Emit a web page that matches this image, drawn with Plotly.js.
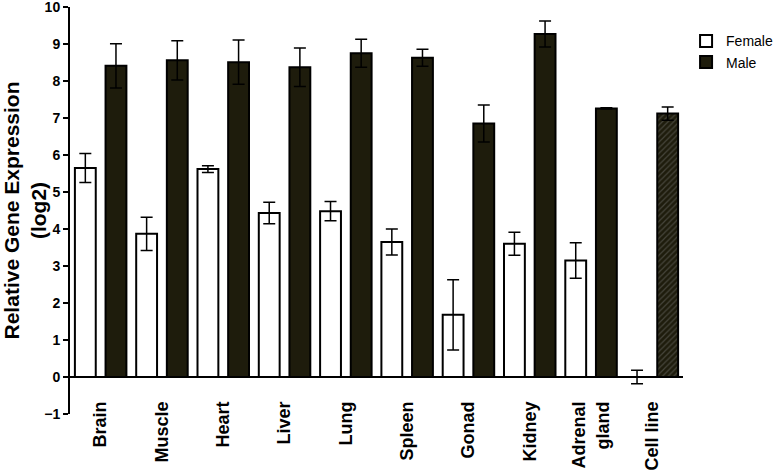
<!DOCTYPE html>
<html>
<head>
<meta charset="utf-8">
<script src="https://cdn.plot.ly/plotly-3.0.1.min.js"></script>
<style>
  html, body { margin: 0; padding: 0; background: #fff; }
  #chart { width: 779px; height: 474px; }
</style>
</head>
<body>
<div id="chart"></div>
<script>
var tissues = ['Brain', 'Muscle', 'Heart', 'Liver', 'Lung', 'Spleen', 'Gonad', 'Kidney', 'Adrenal<br>gland', 'Cell line'];

var femaleMean = [5.65, 3.87, 5.62, 4.43, 4.48, 3.65, 1.68, 3.60, 3.15, 0.0];
var femaleErr  = [0.39, 0.45, 0.09, 0.29, 0.26, 0.35, 0.95, 0.31, 0.48, 0.18];

var maleMean = [8.41, 8.56, 8.51, 8.37, 8.75, 8.63, 6.85, 9.27, 7.26, 7.12];
var maleErr  = [0.60, 0.53, 0.60, 0.52, 0.38, 0.23, 0.50, 0.35, 0.02, 0.18];

// only the cell line bar is hatched
var maleHatch = ['', '', '', '', '', '', '', '', '', '/'];

var female = {
    x: tissues,
    y: femaleMean,
    name: 'Female',
    type: 'bar',
    marker: {color: '#ffffff', line: {color: '#000000', width: 2}},
    error_y: {type: 'data', array: femaleErr, visible: true, color: '#000000', thickness: 1.5, width: 6}
};

var male = {
    x: tissues,
    y: maleMean,
    name: 'Male',
    type: 'bar',
    marker: {
        color: '#1e1c0c',
        line: {color: '#000000', width: 2},
        pattern: {shape: maleHatch, fgcolor: '#45443a', bgcolor: '#1e1c0c', size: 4, solidity: 0.3}
    },
    error_y: {type: 'data', array: maleErr, visible: true, color: '#000000', thickness: 1.5, width: 6}
};

var layout = {
    width: 779,
    height: 474,
    margin: {l: 70, r: 96, t: 7, b: 60, autoexpand: false},
    barmode: 'group',
    bargap: 0,
    bargroupgap: 0.32,
    showlegend: true,
    legend: {
        x: 1.005, y: 0.955, xanchor: 'left', yanchor: 'top',
        font: {family: 'Liberation Sans, Arial, sans-serif', size: 14, color: '#000'},
        bgcolor: 'rgba(0,0,0,0)',
        tracegroupgap: 0
    },
    xaxis: {
        type: 'category',
        automargin: false,
        anchor: 'free',
        position: 0.042,
        tickangle: -90,
        showline: false,
        ticks: '',
        showgrid: false,
        tickfont: {family: 'Liberation Sans, Arial, sans-serif', size: 18, color: '#000', weight: 'bold'}
    },
    yaxis: {
        automargin: false,
        range: [-1, 10],
        dtick: 1,
        tick0: 0,
        showgrid: false,
        showline: true,
        linecolor: '#000',
        linewidth: 2,
        ticks: 'outside',
        ticklen: 5,
        tickwidth: 2,
        tickcolor: '#000',
        ticklabeloverflow: 'allow',
        zeroline: true,
        zerolinecolor: '#000',
        zerolinewidth: 2,
        tickfont: {family: 'Liberation Sans, Arial, sans-serif', size: 14, color: '#000', weight: 'bold'},
        title: {
            text: 'Relative Gene Expression<br>(log2)',
            font: {family: 'Liberation Sans, Arial, sans-serif', size: 21, color: '#000', weight: 'bold'},
            standoff: 2
        }
    },
    paper_bgcolor: '#ffffff',
    plot_bgcolor: '#ffffff'
};

Plotly.newPlot('chart', [female, male], layout, {displayModeBar: false});
</script>
</body>
</html>
